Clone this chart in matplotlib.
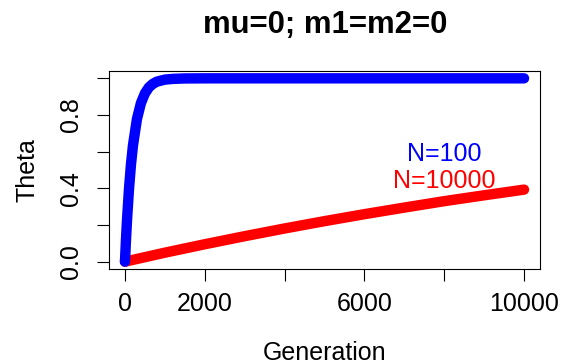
import matplotlib
matplotlib.use("Agg")
import matplotlib.pyplot as plt

plt.rcParams['font.family'] = ['Liberation Sans', 'DejaVu Sans']

gen_small = [0, 25, 50, 100, 150, 200, 300, 400, 500, 600, 700, 800, 1000, 1200, 1500, 2000, 4000, 6000, 8000, 10000]
theta_small = [0.0, 0.118, 0.222, 0.394, 0.529, 0.633, 0.778, 0.865, 0.918, 0.951,
               0.970, 0.982, 0.993, 0.997, 0.9994, 1.0, 1.0, 1.0, 1.0, 1.0]

gen_large = [0, 1000, 2000, 3000, 4000, 5000, 6000, 7000, 8000, 9000, 10000]
theta_large = [0.0, 0.049, 0.095, 0.139, 0.181, 0.221, 0.259, 0.295, 0.330, 0.362, 0.393]

xticks = [0, 2000, 4000, 6000, 8000, 10000]
xlabels = ['0', '2000', '', '6000', '', '10000']
yticks = [0.0, 0.2, 0.4, 0.6, 0.8, 1.0]
ylabels = ['0.0', '', '0.4', '', '0.8', '']

fig = plt.figure(figsize=(5.63, 3.64), dpi=100)
ax = fig.add_axes([109 / 563, 1 - 269 / 364, 431 / 563, 198 / 364])

ax.plot(gen_large, theta_large, color='red', lw=7.5, solid_capstyle='round', solid_joinstyle='round')
ax.plot(gen_small, theta_small, color='blue', lw=7.5, solid_capstyle='round', solid_joinstyle='round')

ax.text(8000, 0.59, 'N=100', color='blue', fontsize=18, ha='center', va='center')
ax.text(8000, 0.44, 'N=10000', color='red', fontsize=18, ha='center', va='center')

ax.set_xlim(-400, 10400)
ax.set_ylim(-0.04, 1.04)
ax.set_xticks(xticks)
ax.set_xticklabels(xlabels)
ax.set_yticks(yticks)
ax.set_yticklabels(ylabels, rotation=90, va='center')
ax.tick_params(length=8.6, width=0.8, labelsize=18, pad=8)
ax.tick_params(axis='y', pad=10)
for s in ax.spines.values():
    s.set_linewidth(0.8)

ax.set_xlabel('Generation', fontsize=18, labelpad=18)
ax.set_ylabel('Theta', fontsize=18, labelpad=14)
fig.text(325 / 563, 1 - 25 / 364, 'mu=0; m1=m2=0', fontsize=22.4, fontweight='bold',
         ha='center', va='center')

fig.savefig('out.png', dpi=100)
